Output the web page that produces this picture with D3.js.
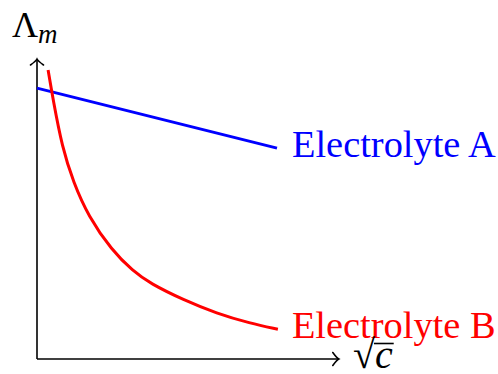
<!doctype html>
<html lang="en">
<head>
    <title>Molar conductivity vs sqrt(c)</title>
    <script src='https://d3js.org/d3.v7.min.js'></script>
    <style>
        body { margin: 0; background: #fff; }
    </style>
</head>
<body>
    <script>
        // values (arbitrary units, axes have no ticks)
        var sqrtC_A = [0, 8.0];
        var lambda_A = [9.03, 7.03];

        var sqrtC_B = [0.37, 0.53, 0.84, 1.21, 1.71, 2.49, 3.2, 3.77, 4.88, 5.99, 7.1, 8.03];
        var lambda_B = [9.63, 8.68, 7.05, 5.9, 4.76, 3.63, 2.93, 2.52, 1.97, 1.52, 1.19, 0.99];

        var seriesNames = ["Electrolyte A", "Electrolyte B"];
        var seriesColors = ["#0000ff", "#ff0000"];

        var width = 498, height = 374;
        var x0 = 37, y0 = 359;

        var x = d3.scaleLinear().domain([0, 10]).range([x0, x0 + 300]);
        var y = d3.scaleLinear().domain([0, 10]).range([y0, y0 - 300]);

        var svg = d3.select("body").append("svg")
            .attr("width", width)
            .attr("height", height);

        // axes
        var axisG = svg.append("g")
            .attr("stroke", "#000")
            .attr("stroke-width", 1.6)
            .attr("fill", "none");

        axisG.append("line")
            .attr("x1", x(0)).attr("y1", y(0))
            .attr("x2", x(10.06)).attr("y2", y(0));
        axisG.append("line")
            .attr("x1", x(0)).attr("y1", y(0))
            .attr("x2", x(0)).attr("y2", y(10));

        // latex-ish arrow tips
        var xt = x(10.06), yt = y(0);
        axisG.append("path")
            .attr("d", "M" + (xt - 6) + "," + (yt - 6.5) + " Q" + (xt - 2) + "," + (yt - 1) + " " + xt + "," + yt +
                       " Q" + (xt - 2) + "," + (yt + 1) + " " + (xt - 6) + "," + (yt + 6.5))
            .attr("stroke-linecap", "round");
        var xa = x(0), ya = y(10);
        axisG.append("path")
            .attr("d", "M" + (xa - 6.5) + "," + (ya + 6) + " Q" + (xa - 1) + "," + (ya + 2) + " " + xa + "," + ya +
                       " Q" + (xa + 1) + "," + (ya + 2) + " " + (xa + 6.5) + "," + (ya + 6))
            .attr("stroke-linecap", "round");

        // series
        var dataA = d3.zip(sqrtC_A, lambda_A);
        var dataB = d3.zip(sqrtC_B, lambda_B);

        var line = d3.line()
            .x(function(d) { return x(d[0]); })
            .y(function(d) { return y(d[1]); });

        svg.append("path")
            .datum(dataA)
            .attr("d", line)
            .attr("fill", "none")
            .attr("stroke", seriesColors[0])
            .attr("stroke-width", 3);

        svg.append("path")
            .datum(dataB)
            .attr("d", line.curve(d3.curveBasis))
            .attr("fill", "none")
            .attr("stroke", seriesColors[1])
            .attr("stroke-width", 3);

        // series labels
        var font = "'Liberation Serif', 'Times New Roman', serif";
        svg.append("text")
            .attr("x", x(sqrtC_A[1]) + 15)
            .attr("y", 157)
            .attr("font-family", font)
            .attr("font-size", 38.4)
            .attr("fill", seriesColors[0])
            .text(seriesNames[0]);

        svg.append("text")
            .attr("x", x(sqrtC_B[sqrtC_B.length - 1]) + 14)
            .attr("y", 338)
            .attr("font-family", font)
            .attr("font-size", 38.4)
            .attr("fill", seriesColors[1])
            .text(seriesNames[1]);

        // axis labels
        var yl = svg.append("text")
            .attr("x", 12)
            .attr("y", 37)
            .attr("font-family", font)
            .attr("font-size", 36)
            .attr("fill", "#000");
        yl.append("tspan").text("\u039B");
        yl.append("tspan")
            .attr("dy", 6)
            .attr("font-size", 27)
            .attr("font-style", "italic")
            .text("m");

        var xl = svg.append("text")
            .attr("x", 353)
            .attr("y", 368)
            .attr("font-family", font)
            .attr("font-size", 40)
            .attr("fill", "#000");
        var radW = xl.append("tspan").text("\u221A").node().getComputedTextLength();
        var cW = xl.append("tspan")
            .attr("font-style", "italic")
            .text("c")
            .node().getComputedTextLength();

        svg.append("line")
            .attr("x1", 353 + radW - 1).attr("x2", 353 + radW + cW + 1)
            .attr("y1", 343.5).attr("y2", 343.5)
            .attr("stroke", "#000")
            .attr("stroke-width", 1.6);
    </script>
</body>
</html>
